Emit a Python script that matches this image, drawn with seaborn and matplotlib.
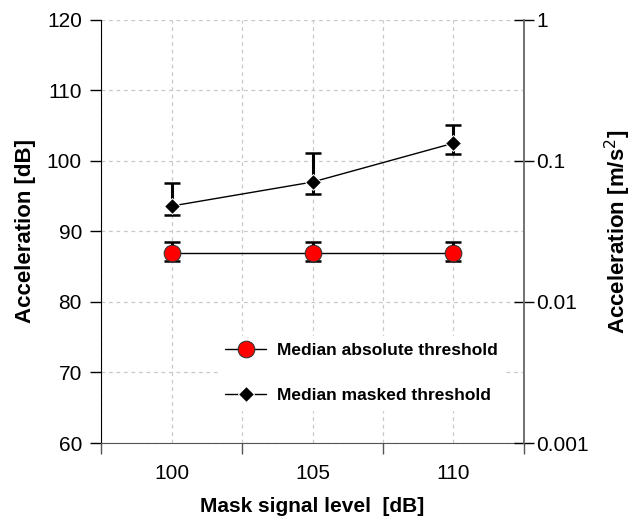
import matplotlib.pyplot as plt
import seaborn as sns
import pandas as pd
from matplotlib.ticker import NullLocator

# data
mask_level = [100, 105, 110]
absolute_thr = [87.0, 87.0, 87.0]
absolute_lo = [85.8, 85.8, 85.8]
absolute_hi = [88.5, 88.5, 88.5]
masked_thr = [93.6, 97.0, 102.5]
masked_lo = [92.3, 95.3, 101.0]
masked_hi = [96.8, 101.1, 105.1]

sns.set_style('white')
plt.rcParams['font.family'] = ['Liberation Sans', 'DejaVu Sans']
plt.rcParams['text.color'] = 'black'
plt.rcParams['axes.labelcolor'] = 'black'
plt.rcParams['xtick.color'] = 'black'
plt.rcParams['ytick.color'] = 'black'

df = pd.DataFrame({'level': mask_level * 2,
                   'thr': absolute_thr + masked_thr,
                   'kind': ['Median absolute threshold'] * 3 + ['Median masked threshold'] * 3})

fig, ax = plt.subplots(figsize=(6.34, 5.2), dpi=100)
plt.subplots_adjust(left=0.16, right=0.826, top=0.962, bottom=0.148)

# error bars first so markers sit on top
for y, lo, hi in [(absolute_thr, absolute_lo, absolute_hi), (masked_thr, masked_lo, masked_hi)]:
    yerr = [[a - b for a, b in zip(y, lo)], [c - a for a, c in zip(y, hi)]]
    ax.errorbar(mask_level, y, yerr=yerr, fmt='none', ecolor='black', elinewidth=2.2,
                capsize=6, capthick=1.8, zorder=3)

sns.lineplot(data=df, x='level', y='thr', hue='kind', style='kind',
             palette=['black', 'black'], markers=['o', 'D'], dashes=False,
             lw=1, ax=ax, zorder=4, legend=False)
lines = ax.get_lines()[-2:]
lines[0].set_markerfacecolor('red')
lines[0].set_markeredgecolor('#333333')
lines[0].set_markersize(12)
lines[1].set_markerfacecolor('black')
lines[1].set_markersize(8)

ax.set_xlim(97.5, 112.5)
ax.set_ylim(60, 120)
ax.set_yticks(range(60, 121, 10))
ax.tick_params(axis='y', direction='out', length=8, width=1, labelsize=15, pad=6, left=True)
ax.grid(True, which='major', axis='y', ls=(0, (3, 3)), color='#c8c8c8', lw=0.9)
ax.set_ylabel('Acceleration [dB]', fontsize=16, fontweight='bold', labelpad=8)
ax.spines['top'].set_visible(False)
ax.spines['left'].set_color('black')
ax.spines['bottom'].set_color('#555555')
ax.spines['right'].set_visible(False)

ax2 = ax.twinx()
ax2.set_yscale('log')
ax2.set_ylim(0.001, 1)
ax2.set_yticks([0.001, 0.01, 0.1, 1])
ax2.set_yticklabels(['0.001', '0.01', '0.1', '1'])
ax2.yaxis.set_minor_locator(NullLocator())
ax2.tick_params(axis='y', direction='inout', length=14, width=1, labelsize=15, pad=2, right=True)
ax2.set_ylabel('Acceleration [m/s$^2$]', fontsize=16, fontweight='bold', labelpad=10)
for s in ['top', 'left', 'bottom']:
    ax2.spines[s].set_visible(False)
ax2.spines['right'].set_color('#666666')
ax2.spines['right'].set_linewidth(1.3)

# x ticks: unlabeled majors between the levels, labeled minors at the levels
ax.set_xticks([97.5, 102.5, 107.5, 112.5])
ax.set_xticklabels([])
ax.set_xticks(mask_level, minor=True)
ax.set_xticklabels([str(v) for v in mask_level], minor=True)
ax.tick_params(axis='x', which='major', direction='out', length=8, width=1, color='#555555', bottom=True)
ax.tick_params(axis='x', which='minor', length=0, pad=15, labelsize=15)
ax.grid(True, which='both', axis='x', ls=(0, (3, 3)), color='#c8c8c8', lw=0.9)
ax.set_xlabel('Mask signal level  [dB]', fontsize=15, fontweight='bold', labelpad=10)

leg = ax.legend(lines, ['Median absolute threshold', 'Median masked threshold'],
                loc='lower left', bbox_to_anchor=(0.255, 0.057), frameon=True,
                facecolor='white', edgecolor='white', framealpha=1,
                handlelength=2.4, handletextpad=0.6, labelspacing=1.75,
                prop={'weight': 'bold', 'size': 12.5})
leg.set_zorder(5)

fig.savefig('out.png', dpi=100)
